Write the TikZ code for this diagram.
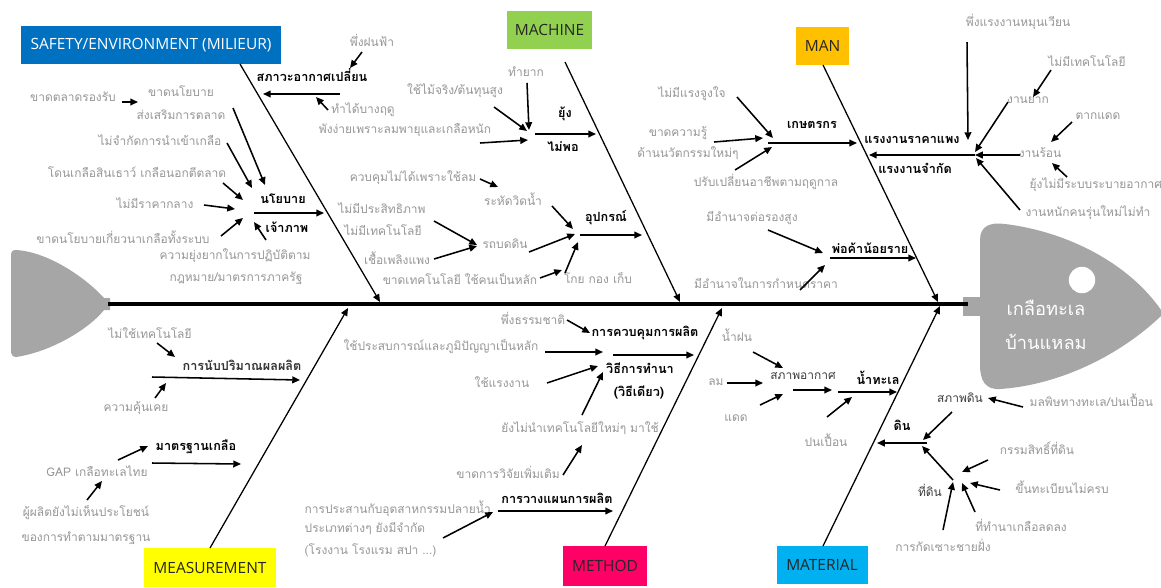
\documentclass[tikz,border=0pt]{standalone}
\usepackage{fontspec}
\setmainfont{Open Sans}
\newfontfamily\thaifont[Script=Thai]{Loma}
\usetikzlibrary{arrows,arrows.meta}

\definecolor{causegray}{RGB}{150,150,150}
\definecolor{subgray}{RGB}{60,60,60}
\definecolor{fishgray}{RGB}{166,166,166}
\definecolor{safetyblue}{RGB}{0,112,192}
\definecolor{machinegreen}{RGB}{146,208,80}
\definecolor{manorange}{RGB}{255,192,0}
\definecolor{measyellow}{RGB}{255,255,0}
\definecolor{methodpink}{RGB}{255,0,102}
\definecolor{matblue}{RGB}{0,176,240}

\tikzset{
  cause/.style={text=causegray,font=\thaifont\fontsize{8.5}{10}\selectfont,inner sep=1pt},
  subcause/.style={text=subgray,font=\thaifont\fontsize{8.5}{10}\selectfont,inner sep=1pt},
  effect/.style={text=black,font=\thaifont\bfseries\fontsize{9}{10}\selectfont,inner sep=1pt},
  catbox/.style={font=\fontsize{11}{13}\selectfont,text=black!85,inner sep=0pt},
  headtext/.style={text=white,font=\thaifont\fontsize{13}{16}\selectfont},
  arr/.style={-{Triangle[length=5.5pt,width=4.8pt]},line width=1.1pt},
  bone/.style={-{Triangle[length=5.5pt,width=4.8pt]},line width=0.9pt},
}

\begin{document}
\begin{tikzpicture}[x=0.025cm,y=-0.025cm]
\useasboundingbox (0,0) rectangle (1161,587);
\fill[white] (0,0) rectangle (1161,587);

% fish tail and head
\fill[fishgray] (16,250) .. controls (50,252) and (88,280) .. (104,298) -- (110,298) -- (110,310) -- (104,310)
  .. controls (88,330) and (50,352) .. (16,357) .. controls (12,357) and (11,354) .. (11,350)
  -- (11,256) .. controls (11,252) and (12,250) .. (16,250) -- cycle;
\fill[fishgray] (963,297) rectangle (982,316);
\fill[fishgray] (980,240) .. controls (980,226) and (990,222) .. (1005,224) .. controls (1070,232) and (1130,265) .. (1161,310)
  -- (1161,316) .. controls (1120,355) and (1060,385) .. (1000,389) .. controls (985,390) and (980,380) .. (980,365) -- cycle;
\fill[white] (1082,280) circle [radius=0.33cm];
\node[headtext] (fish1) at (1046,308) {เกลือทะเล};
\node[headtext] (fish2) at (1046,342) {บ้านแหลม};

% spine
\coordinate (tail) at (108,304);
\coordinate (head) at (968,304);
\draw[line width=3pt] (tail) -- (head);

% categories
\node[catbox,fill=safetyblue,text=white,minimum width=6.5cm,minimum height=0.95cm] (safety) at (151,45) {SAFETY/ENVIRONMENT (MILIEUR)};
\node[catbox,fill=machinegreen,minimum width=2.125cm,minimum height=0.95cm] (machine) at (549.5,30) {MACHINE};
\node[catbox,fill=manorange,minimum width=1.325cm,minimum height=0.95cm] (man) at (822.5,46) {MAN};
\node[catbox,fill=measyellow,minimum width=3.3cm,minimum height=0.975cm] (measure) at (210,567.5) {MEASUREMENT};
\node[catbox,fill=methodpink,minimum width=2.1cm,minimum height=1cm] (method) at (605,566) {METHOD};
\node[catbox,fill=matblue,minimum width=2.275cm,minimum height=0.95cm] (material) at (822,565) {MATERIAL};

% bones
\foreach \k/\xa/\ya/\xb/\yb in {s/240/64/380/302, m/565/62/680/302, n/823/65/938/302,
  e/210/548/348/308, t/605/546/722/308, l/823/546/940/306}
{
  \coordinate (\k-root) at (\xa,\ya);
  \coordinate (\k-spine) at (\xb,\yb);
  \draw[bone] (\k-root) -- (\k-spine);
}

% safety / environment
\node[cause] (s-rain) at (372,40) {พึ่งฝนฟ้า};
\node[effect] (s-climate) at (312,75) {สภาวะอากาศเปลี่ยน};
\node[cause] (s-season) at (363,110) {ทำได้บางฤดู};
\node[cause] (s-market) at (73,97) {ขาดตลาดรองรับ};
\node[cause] (s-promo1) at (181,91) {ขาดนโยบาย};
\node[cause] (s-promo2) at (181,115) {ส่งเสริมการตลาด};
\node[cause] (s-import) at (160,140) {ไม่จำกัดการนำเข้าเกลือ};
\node[cause] (s-rock) at (137,172) {โดนเกลือสินเธาว์ เกลือนอกตีตลาด};
\node[cause] (s-price) at (155,203) {ไม่มีราคากลาง};
\node[cause] (s-system) at (123,237) {ขาดนโยบายเกี่ยวนาเกลือทั้งระบบ};
\node[effect] (s-policy1) at (283,199) {นโยบาย};
\node[effect] (s-policy2) at (287,227) {เจ้าภาพ};
\node[cause] (s-law1) at (235,256) {ความยุ่งยากในการปฏิบัติตาม};
\node[cause] (s-law2) at (236,278) {กฎหมาย/มาตรการภาครัฐ};
\foreach \k/\xa/\ya/\xb/\yb in {1/362/52/350/68, 2/340/94/263/94, 3/328/110/316/97,
  4/122/102/138/102, 5/233/108/265/185, 6/227/143/252/188, 7/223/183/243/200,
  8/204/205/235/209, 9/221/236/243/218, 10/266/240/254/222, 11/254/213/324/213}
{
  \coordinate (s\k-a) at (\xa,\ya);
  \coordinate (s\k-b) at (\xb,\yb);
  \draw[arr] (s\k-a) -- (s\k-b);
}

% machine
\node[cause] (m-hard) at (526,72) {ทำยาก};
\node[cause] (m-wood) at (455,91) {ใช้ไม้จริง/ต้นทุนสูง};
\node[cause] (m-storm) at (405,130) {พังง่ายเพราะลมพายุและเกลือหนัก};
\node[effect] (m-silo1) at (565,114) {ยุ้ง};
\node[effect] (m-silo2) at (563,147) {ไม่พอ};
\node[cause] (m-wind) at (413,178) {ควบคุมไม่ได้เพราะใช้ลม};
\node[cause] (m-wheel) at (513,199) {ระหัดวิดน้ำ};
\node[cause] (m-ineff) at (382,208) {ไม่มีประสิทธิภาพ};
\node[cause] (m-notech) at (383,230) {ไม่มีเทคโนโลยี};
\node[cause] (m-fuel) at (397,258) {เชื้อเพลิงแพง};
\node[cause] (m-roller) at (505,244) {รถบดดิน};
\node[effect] (m-equip) at (606,218) {อุปกรณ์};
\node[cause] (m-labour) at (460,279) {ขาดเทคโนโลยี ใช้คนเป็นหลัก};
\node[cause] (m-rake) at (598,278) {โกย กอง เก็บ};
\foreach \k/\xa/\ya/\xb/\yb in {1/527/83/529/130, 2/494/107/527/131, 3/480/143/528/140,
  4/535/134/596/134, 5/480/179/498/187, 6/552/206/573/229, 7/434/221/477/245,
  8/434/259/477/246, 9/529/252/575/234, 10/580/235/642/235, 11/540/278/562/270,
  12/565/273/578/242}
{
  \coordinate (m\k-a) at (\xa,\ya);
  \coordinate (m\k-b) at (\xb,\yb);
  \draw[arr] (m\k-a) -- (m\k-b);
}

% man
\node[cause] (n-motiv) at (692,94) {ไม่มีแรงจูงใจ};
\node[cause] (n-know1) at (678,133) {ขาดความรู้};
\node[cause] (n-know2) at (688,153) {ด้านนวัตกรรมใหม่ๆ};
\node[effect] (n-farmer) at (812,125) {เกษตรกร};
\node[cause] (n-season) at (766,182) {ปรับเปลี่ยนอาชีพตามฤดูกาล};
\node[effect] (n-cost1) at (912,140) {แรงงานราคาแพง};
\node[effect] (n-cost2) at (915,168) {แรงงานจำกัด};
\node[cause] (n-rotate) at (1018,22) {พึ่งแรงงานหมุนเวียน};
\node[cause] (n-notech) at (1087,61) {ไม่มีเทคโนโลยี};
\node[cause] (n-hardwork) at (1028,100) {งานยาก};
\node[cause] (n-sun) at (1098,116) {ตากแดด};
\node[cause] (n-hot) at (1040,153) {งานร้อน};
\node[cause,anchor=west] (n-vent) at (1028,185) {ยุ้งไม่มีระบบระบายอากาศ};
\node[cause] (n-young) at (1088,213) {งานหนักคนรุ่นใหม่ไม่ทำ};
\node[cause] (n-bargain) at (752,218) {มีอำนาจต่อรองสูง};
\node[effect] (n-trader) at (870,248) {พ่อค้าน้อยราย};
\node[cause] (n-pricing) at (766,283) {มีอำนาจในการกำหนดราคา};
\foreach \k/\xa/\ya/\xb/\yb in {1/737/97/773/138, 2/714/142/763/138, 3/768/143/857/143,
  4/735/170/772/147, 5/967/42/968/140, 6/1008/102/975/152, 7/1051/70/1033/97,
  8/1072/122/1051/142, 9/1020/155/975/155, 10/975/155/869/155, 11/1067/177/1052/163,
  12/1020/210/976/158, 13/768/230/823/253, 14/830/258/916/258, 15/800/290/825/265}
{
  \coordinate (n\k-a) at (\xa,\ya);
  \coordinate (n\k-b) at (\xb,\yb);
  \draw[arr] (n\k-a) -- (n\k-b);
}

% measurement
\node[cause] (e-notech) at (150,333) {ไม่ใช้เทคโนโลยี};
\node[effect,text=black!80] (e-count) at (242,365) {การนับปริมาณผลผลิต};
\node[cause] (e-habit) at (136,408) {ความคุ้นเคย};
\node[effect] (e-std) at (196,447) {มาตรฐานเกลือ};
\node[cause] (e-gap) at (97,471) {GAP เกลือทะเลไทย};
\node[cause] (e-benefit1) at (86,513) {ผู้ผลิตยังไม่เห็นประโยชน์};
\node[cause] (e-benefit2) at (86,538) {ของการทำตามมาตรฐาน};
\foreach \k/\xa/\ya/\xb/\yb in {1/157/343/175/357, 2/152/377/300/380, 3/155/398/166/383,
  4/152/463/241/464, 5/118/460/148/446, 6/87/500/102/481}
{
  \coordinate (e\k-a) at (\xa,\ya);
  \coordinate (e\k-b) at (\xb,\yb);
  \draw[arr] (e\k-a) -- (e\k-b);
}

% method
\node[cause] (t-nature) at (533,318) {พึ่งธรรมชาติ};
\node[effect] (t-control) at (645,333) {การควบคุมการผลิต};
\node[cause] (t-wisdom) at (441,347) {ใช้ประสบการณ์และภูมิปัญญาเป็นหลัก};
\node[effect] (t-farm1) at (640,368) {วิธีการทำนา};
\node[effect] (t-farm2) at (639,392) {(วิธีเดียว)};
\node[cause] (t-labour) at (502,382) {ใช้แรงงาน};
\node[cause] (t-newtech) at (580,428) {ยังไม่นำเทคโนโลยีใหม่ๆ มาใช้};
\node[cause] (t-research) at (508,472) {ขาดการวิจัยเพิ่มเติม};
\node[effect] (t-plan) at (557,498) {การวางแผนการผลิต};
\node[cause,anchor=west] (t-down1) at (303,509) {การประสานกับอุตสาหกรรมปลายน้ำ};
\node[cause,anchor=west] (t-down2) at (303,529) {ประเภทต่างๆ ยังมีจำกัด};
\node[cause,anchor=west] (t-down3) at (303,550) {(โรงงาน โรงแรม สปา ...)};
\foreach \k/\xa/\ya/\xb/\yb in {1/567/320/590/333, 2/545/352/603/352, 3/613/355/694/355,
  4/547/383/598/366, 5/582/415/603/372, 6/563/475/582/445, 7/498/511/613/511,
  8/443/538/493/512}
{
  \coordinate (t\k-a) at (\xa,\ya);
  \coordinate (t\k-b) at (\xb,\yb);
  \draw[arr] (t\k-a) -- (t\k-b);
}

% material
\node[cause] (l-rain) at (737,335) {น้ำฝน};
\node[cause] (l-wind) at (716,382) {ลม};
\node[cause] (l-sun) at (736,418) {แดด};
\node[subcause] (l-weather) at (803,376) {สภาพอากาศ};
\node[effect] (l-seawater) at (878,378) {น้ำทะเล};
\node[cause] (l-dirty) at (826,440) {ปนเปื้อน};
\node[subcause] (l-soilcond) at (960,398) {สภาพดิน};
\node[cause,anchor=west] (l-pollute) at (1028,400) {มลพิษทางทะเล/ปนเปื้อน};
\node[effect] (l-soil) at (902,425) {ดิน};
\node[cause] (l-owner) at (1037,448) {กรรมสิทธิ์ที่ดิน};
\node[cause] (l-register) at (1062,487) {ขึ้นทะเบียนไม่ครบ};
\node[subcause] (l-land) at (930,490) {ที่ดิน};
\node[cause] (l-shrink) at (1021,525) {ที่ทำนาเกลือลดลง};
\node[cause] (l-erosion) at (943,545) {การกัดเซาะชายฝั่ง};
\foreach \k/\xa/\ya/\xb/\yb in {1/753/352/783/368, 2/727/383/763/383, 3/760/405/783/394,
  4/793/390/832/390, 5/838/392/897/392, 6/827/417/852/397, 7/1023/407/988/398,
  8/952/412/923/440, 9/927/443/877/443, 10/953/480/922/446, 11/988/460/962/472,
  12/1000/490/970/483, 13/975/512/962/483, 14/943/530/953/482}
{
  \coordinate (l\k-a) at (\xa,\ya);
  \coordinate (l\k-b) at (\xb,\yb);
  \draw[arr] (l\k-a) -- (l\k-b);
}
\end{tikzpicture}
\end{document}
